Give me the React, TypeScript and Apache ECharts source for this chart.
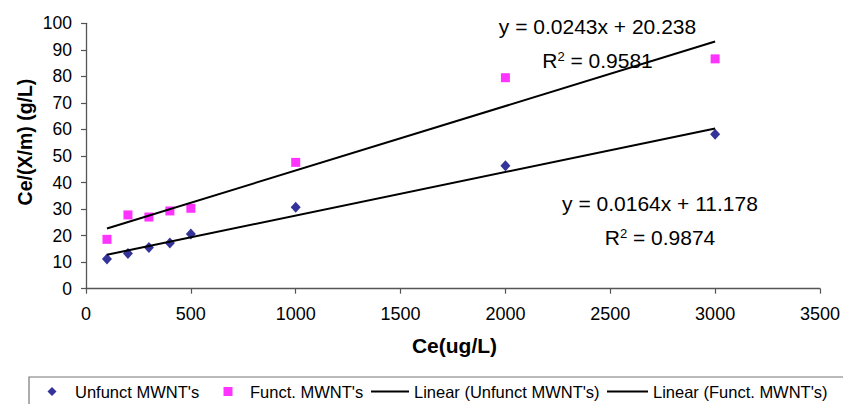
import React, { useEffect, useRef } from "react";
import * as echarts from "echarts";

// ---- data ----
const ceValues = [100, 200, 300, 400, 500, 1000, 2000, 3000];
const unfunctValues = [11.2, 13.3, 15.5, 17.2, 20.6, 30.7, 46.3, 58.2];
const functValues = [18.6, 27.8, 27.0, 29.3, 30.3, 47.6, 79.5, 86.6];
const trendX = [100, 3000];
const unfunctTrendY = [12.82, 60.38];
const functTrendY = [22.67, 93.14];
const seriesNames = [
  "Unfunct MWNT's",
  "Funct. MWNT's",
  "Linear (Unfunct MWNT's)",
  "Linear (Funct. MWNT's)",
];
const functEquation = "y = 0.0243x + 20.238";
const functR2 = "0.9581";
const unfunctEquation = "y = 0.0164x + 11.178";
const unfunctR2 = "0.9874";
const xTitle = "Ce(ug/L)";
const yTitle = "Ce/(X/m) (g/L)";

const FONT = "'Liberation Sans', Arial, Helvetica, sans-serif";
const AXIS_COLOR = "#555555";

const ICON_LINE = "path://M0,0 L38,0 L38,2 L0,2 Z";

export default function App() {
  const ref = useRef<HTMLDivElement>(null);

  useEffect(() => {
    if (!ref.current) return;
    const chart = echarts.init(ref.current, undefined, { renderer: "svg" });

    const pairs = (xs: number[], ys: number[]) => xs.map((x, i) => [x, ys[i]]);

    const axisCommon = {
      axisLine: { show: true, lineStyle: { color: AXIS_COLOR, width: 1.3 } },
      axisTick: { show: true, length: 5, lineStyle: { color: AXIS_COLOR, width: 1.2 } },
      splitLine: { show: false },
    };

    const r2Text = (v: string) => `R{s|2} = ${v}`;

    const legendBase = {
      top: 383,
      itemHeight: 9,
      padding: 0,
      selectedMode: false,
    };
    const legendText = (padLeft: number) => ({
      fontSize: 16.5,
      color: "#000",
      fontFamily: FONT,
      padding: [0, 0, 0, padLeft],
    });

    chart.setOption({
      animation: false,
      backgroundColor: "#ffffff",
      textStyle: { fontFamily: FONT },
      grid: { left: 86, right: 20, top: 23.3, bottom: 115.3, containLabel: false },
      xAxis: {
        type: "value",
        min: 0,
        max: 3500,
        interval: 500,
        ...axisCommon,
        axisLabel: {
          fontSize: 18,
          color: "#000",
          margin: 16,
          fontFamily: FONT,
          formatter: (v: number) => String(v),
        },
      },
      yAxis: {
        type: "value",
        min: 0,
        max: 100,
        interval: 10,
        ...axisCommon,
        axisLabel: {
          fontSize: 17.5,
          color: "#000",
          margin: 14,
          fontFamily: FONT,
          formatter: (v: number) => String(v),
        },
      },
      legend: [
        {
          ...legendBase,
          left: 47.5,
          itemWidth: 9,
          textStyle: legendText(13.5),
          data: [{ name: seriesNames[0], icon: "diamond" }],
        },
        {
          ...legendBase,
          left: 223.5,
          itemWidth: 9,
          textStyle: legendText(12.5),
          data: [{ name: seriesNames[1], icon: "rect" }],
        },
        {
          ...legendBase,
          left: 371,
          itemWidth: 38,
          textStyle: legendText(0),
          data: [{ name: seriesNames[2], icon: ICON_LINE, itemStyle: { color: "#000" } }],
        },
        {
          ...legendBase,
          left: 607,
          itemWidth: 41,
          textStyle: legendText(0),
          data: [{ name: seriesNames[3], icon: ICON_LINE, itemStyle: { color: "#000" } }],
        },
      ],
      graphic: [
        {
          type: "rect",
          shape: { x: 29, y: 377, width: 830, height: 40 },
          style: { fill: "none", stroke: "#777", lineWidth: 1.2 },
          silent: true,
        },
        {
          type: "text",
          x: 25,
          y: 142,
          rotation: Math.PI / 2,
          style: {
            text: yTitle,
            fontSize: 19.5,
            fontWeight: "bold",
            fontFamily: FONT,
            fill: "#000",
            align: "center",
            verticalAlign: "middle",
          },
        },
        {
          type: "text",
          x: 454.5,
          y: 345,
          style: {
            text: xTitle,
            fontSize: 21,
            fontWeight: "bold",
            fontFamily: FONT,
            fill: "#000",
            align: "center",
            verticalAlign: "middle",
          },
        },
        {
          type: "text",
          x: 597.5,
          y: 26.5,
          style: {
            text: functEquation,
            fontSize: 21,
            fontFamily: FONT,
            fill: "#000",
            align: "center",
            verticalAlign: "middle",
          },
        },
        {
          type: "text",
          x: 597.5,
          y: 60,
          style: {
            text: r2Text(functR2),
            fontSize: 21,
            fontFamily: FONT,
            fill: "#000",
            align: "center",
            verticalAlign: "middle",
            rich: { s: { fontSize: 13, verticalAlign: "top", fontFamily: FONT, fill: "#000" } },
          },
        },
        {
          type: "text",
          x: 660,
          y: 203,
          style: {
            text: unfunctEquation,
            fontSize: 21,
            fontFamily: FONT,
            fill: "#000",
            align: "center",
            verticalAlign: "middle",
          },
        },
        {
          type: "text",
          x: 660,
          y: 237,
          style: {
            text: r2Text(unfunctR2),
            fontSize: 21,
            fontFamily: FONT,
            fill: "#000",
            align: "center",
            verticalAlign: "middle",
            rich: { s: { fontSize: 13, verticalAlign: "top", fontFamily: FONT, fill: "#000" } },
          },
        },
      ],
      series: [
        {
          name: seriesNames[0],
          type: "scatter",
          symbol: "diamond",
          symbolSize: [10, 11],
          itemStyle: { color: "#000080" },
          data: pairs(ceValues, unfunctValues),
          z: 3,
        },
        {
          name: seriesNames[1],
          type: "scatter",
          symbol: "rect",
          symbolSize: 9,
          itemStyle: { color: "#FF00FF" },
          data: pairs(ceValues, functValues),
          z: 3,
        },
        {
          name: seriesNames[2],
          type: "line",
          symbol: "none",
          showSymbol: false,
          lineStyle: { color: "#000", width: 2 },
          itemStyle: { color: "#000" },
          data: pairs(trendX, unfunctTrendY),
          z: 4,
        },
        {
          name: seriesNames[3],
          type: "line",
          symbol: "none",
          showSymbol: false,
          lineStyle: { color: "#000", width: 2 },
          itemStyle: { color: "#000" },
          data: pairs(trendX, functTrendY),
          z: 4,
        },
      ],
    });

    return () => chart.dispose();
  }, []);

  return (
    <div
      ref={ref}
      style={{ position: "fixed", left: 0, top: 0, width: 843, height: 404 }}
    />
  );
}
